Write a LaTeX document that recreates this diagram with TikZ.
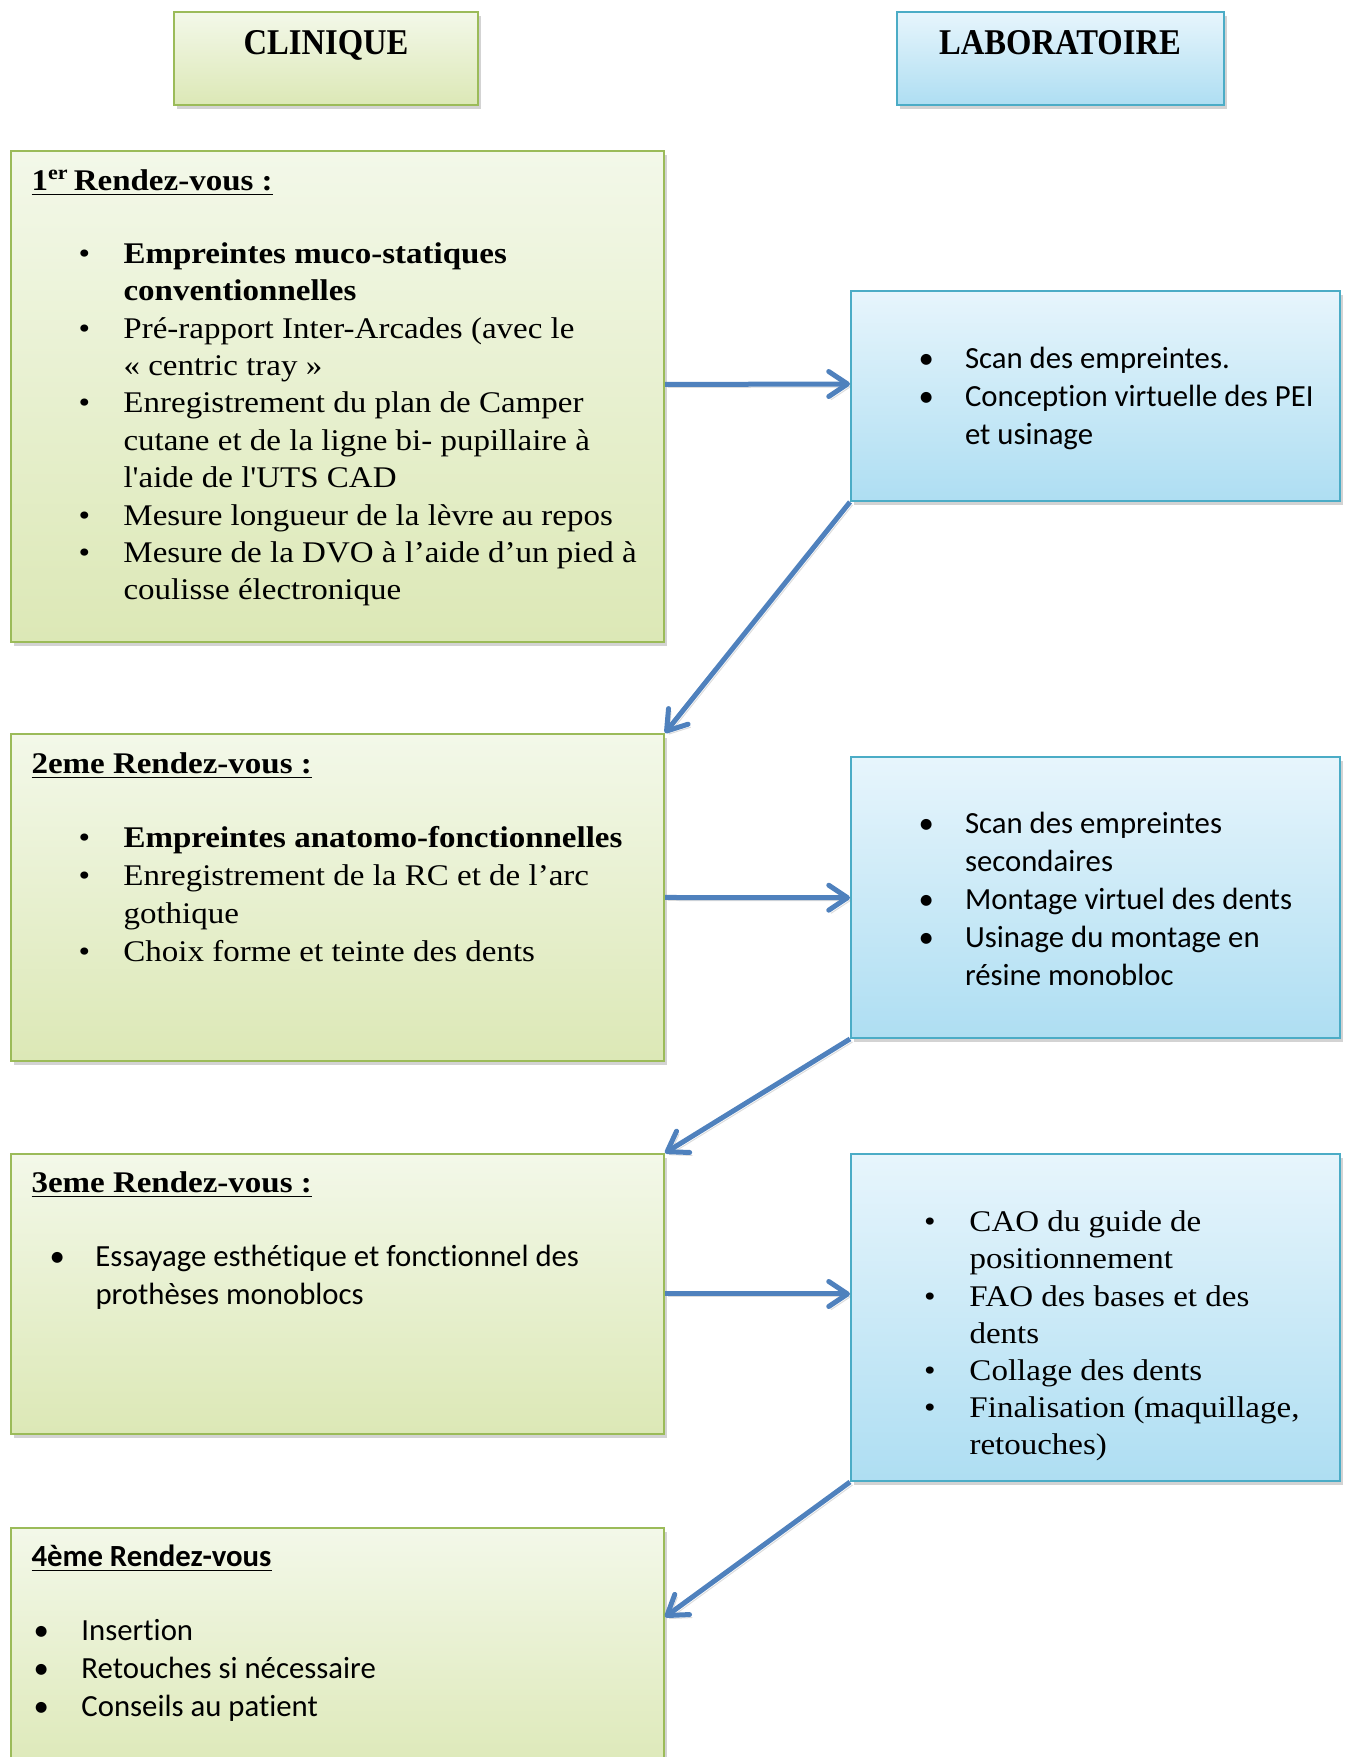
\documentclass[tikz,border=0pt]{standalone}
\usepackage{fontspec}
\setmainfont{Liberation Serif}
\newfontfamily\cambria{Liberation Serif}[FakeStretch=1.1,Ligatures=NoCommon]
\newfontfamily\titrefont{Liberation Serif}[FakeStretch=0.9]
\newfontfamily\calibri{Carlito}[Ligatures=NoCommon]
\usetikzlibrary{calc,fit,shadows,arrows.meta}
\definecolor{vertbord}{HTML}{9BBB59}
\definecolor{verthaut}{HTML}{F3F8E9}
\definecolor{vertbas}{HTML}{DCE8B6}
\definecolor{bleubord}{HTML}{4BACC6}
\definecolor{bleuhaut}{HTML}{E7F5FC}
\definecolor{bleubas}{HTML}{AEDEF2}
\definecolor{fleche}{HTML}{4F81BD}

\newlength{\retrait}
\newcommand{\puce}[1]{\makebox[\retrait][l]{\textbullet}#1}
\newcommand{\suite}[1]{\hspace*{\retrait}#1}

\begin{document}
\begin{tikzpicture}[x=0.4pt,y=0.4pt,
  vert/.style={draw=vertbord,line width=0.8pt,top color=verthaut,bottom color=vertbas,
    drop shadow={shadow xshift=1.2pt,shadow yshift=-1.6pt,opacity=.35},inner sep=0},
  bleu/.style={draw=bleubord,line width=0.8pt,top color=bleuhaut,bottom color=bleubas,
    drop shadow={shadow xshift=1.2pt,shadow yshift=-1.6pt,opacity=.35},inner sep=0},
  liste/.style={anchor=base west,inner sep=0,align=left},
  titre/.style={anchor=base west,inner sep=0},
  flow/.style={draw=fleche,line width=2pt,-{Straight Barb[length=7.5pt,width=10pt,round]},
    preaction={draw=black!45,opacity=.3,-{Straight Barb[length=7.5pt,width=10pt,round]},
      transform canvas={shift={(1pt,-1.2pt)}}}}]
\useasboundingbox (0,0) rectangle (1347,1757);

% en-tetes
\node[vert,fit={(174,1745) (478,1652)}] (hc) {};
\node[bleu,fit={(897,1745) (1224,1652)}] (hl) {};
\node[anchor=base,inner sep=0,font=\titrefont\bfseries\fontsize{14.5}{17}\selectfont] (hct) at (326,1702) {CLINIQUE};
\node[anchor=base,inner sep=0,font=\titrefont\bfseries\fontsize{14.5}{17}\selectfont] (hlt) at (1060,1702) {LABORATOIRE};

% colonne clinique
\node[vert,fit={(11,1606) (664,1115)}] (g1) {};
\node[vert,fit={(11,1023) (664,696)}] (g2) {};
\node[vert,fit={(11,603) (664,323)}] (g3) {};
\node[vert,fit={(11,229) (664,-25)}] (g4) {};

% colonne laboratoire
\node[bleu,fit={(851,1466) (1340,1256)}] (b1) {};
\node[bleu,fit={(851,999.5) (1340,719)}] (b2) {};
\node[bleu,fit={(851,603) (1340,276)}] (b3) {};

% 1er rendez-vous (listes placees sur la ligne du bas)
\node[titre,font=\cambria\bfseries\fontsize{12}{14}\selectfont] (t1) at (31,1566.3)
  {\underline{1\textsuperscript{er}\,Rendez-vous :}};
\node[liste,font=\cambria\fontsize{12}{14.96}\selectfont\setlength{\retrait}{18pt}] (l1) at (78,1157) {%
\puce{\textbf{Empreintes muco-statiques}}\\
\suite{\textbf{conventionnelles}}\\
\puce{Pré-rapport Inter-Arcades (avec le}\\
\suite{« centric tray »}\\
\puce{Enregistrement du plan de Camper}\\
\suite{cutane et de la ligne bi- pupillaire à}\\
\suite{l'aide de l'UTS CAD}\\
\puce{Mesure longueur de la lèvre au repos}\\
\puce{Mesure de la DVO à l’aide d’un pied à}\\
\suite{coulisse électronique}};

\node[liste,font=\calibri\fontsize{12.3}{15.36}\selectfont\setlength{\retrait}{18.6pt}] (m1) at (918,1312) {%
\puce{Scan des empreintes.}\\
\puce{Conception virtuelle des PEI}\\
\suite{et usinage}};

% 2eme rendez-vous
\node[titre,font=\cambria\bfseries\fontsize{12}{14}\selectfont] (t2) at (31,983)
  {\underline{2eme Rendez-vous :}};
\node[liste,font=\cambria\fontsize{12}{15.2}\selectfont\setlength{\retrait}{18pt}] (l2) at (78,795.3) {%
\puce{\textbf{Empreintes anatomo-fonctionnelles}}\\
\puce{Enregistrement de la RC et de l’arc}\\
\suite{gothique}\\
\puce{Choix forme et teinte des dents}};

\node[liste,font=\calibri\fontsize{12.3}{15.2}\selectfont\setlength{\retrait}{18.6pt}] (m2) at (918,771) {%
\puce{Scan des empreintes}\\
\suite{secondaires}\\
\puce{Montage virtuel des dents}\\
\puce{Usinage du montage en}\\
\suite{résine monobloc}};

% 3eme rendez-vous
\node[titre,font=\cambria\bfseries\fontsize{12}{14}\selectfont] (t3) at (31,564)
  {\underline{3eme Rendez-vous :}};
\node[liste,font=\calibri\fontsize{12.3}{15.2}\selectfont\setlength{\retrait}{18.4pt}] (l3) at (49,452) {%
\puce{Essayage esthétique et fonctionnel des}\\
\suite{prothèses monoblocs}};

\node[liste,font=\cambria\fontsize{12}{14.88}\selectfont\setlength{\retrait}{18.2pt}] (m3) at (923.5,302) {%
\puce{CAO du guide de}\\
\suite{positionnement}\\
\puce{FAO des bases et des}\\
\suite{dents}\\
\puce{Collage des dents}\\
\puce{Finalisation (maquillage,}\\
\suite{retouches)}};

% 4eme rendez-vous
\node[titre,font=\calibri\bfseries\fontsize{12.3}{14}\selectfont] (t4) at (31,190.3)
  {\underline{4ème Rendez-vous}};
\node[liste,font=\calibri\fontsize{12.3}{15.2}\selectfont\setlength{\retrait}{19.2pt}] (l4) at (33,40.3) {%
\puce{Insertion}\\
\puce{Retouches si nécessaire}\\
\puce{Conseils au patient}};

% fleches
\draw[flow] ($(g1.east)+(0,12)$) -- ($(b1.west)+(0,12)$);
\draw[flow] (b1.south west) -- (g2.north east);
\draw[flow] (g2.east) -- (b2.west);
\draw[flow] (b2.south west) -- (g3.north east);
\draw[flow] (g3.east) -- (g3.east -| b3.west);
\draw[flow] (b3.south west) -- ($(g4.north east)+(0,-90)$);

\end{tikzpicture}
\end{document}
